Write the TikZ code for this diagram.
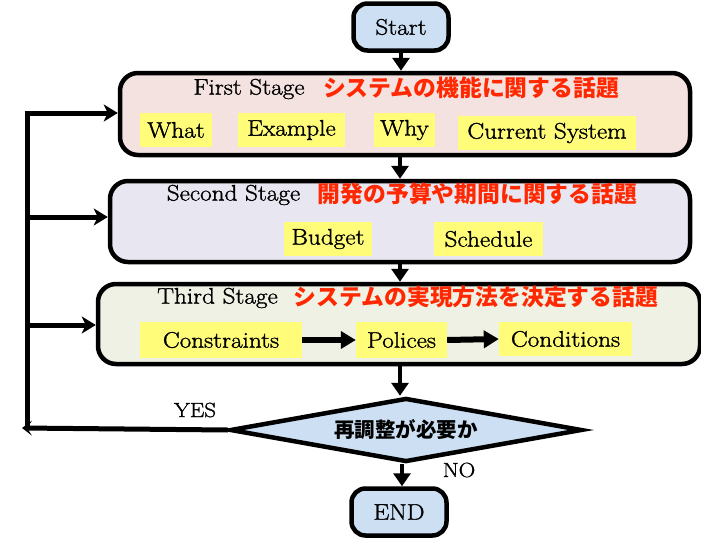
\documentclass[tikz,border=0pt]{standalone}
\usepackage{fontspec}
\newfontfamily\cjk{Noto Sans CJK JP}
\newfontfamily\latn{Latin Modern Roman}[FakeBold=1.3,FakeStretch=1.12]
\usetikzlibrary{arrows.meta,shapes.geometric}
\definecolor{cblue}{RGB}{205,223,242}
\definecolor{cpink}{RGB}{244,226,224}
\definecolor{clav}{RGB}{232,230,241}
\definecolor{cgreen}{RGB}{238,241,227}
\definecolor{cyellow}{RGB}{255,252,122}
\definecolor{cred}{RGB}{255,40,0}
\newcommand\latf{\latn\fontsize{22.5}{26}\selectfont}
\newcommand\smlatf{\latn\fontsize{20.5}{24}\selectfont}
\newcommand\jpf{\cjk\bfseries\fontsize{22.8}{26}\selectfont}
\begin{document}
\begin{tikzpicture}[x=1pt,y=-1pt,
  term/.style={draw,line width=4.5pt,rounded corners=14pt,fill=cblue,minimum width=95pt,minimum height=47pt,inner sep=0pt,font=\latf},
  stagebox/.style={draw,line width=4.5pt,rounded corners=18pt,inner sep=0pt},
  ybox/.style={fill=cyellow,inner sep=0pt,minimum height=34pt,font=\latf},
  lat/.style={inner sep=0pt,font=\latf},
  jp/.style={inner sep=0pt,text=cred,font=\jpf},
  conn/.style={line width=4.5pt,-{Triangle[length=13pt,width=17pt]}},
  inarrow/.style={line width=6pt,-{Triangle[length=15pt,width=17pt]}},
  loopline/.style={line width=5pt},
  looparrow/.style={line width=5pt,-{Stealth[length=14pt,width=17pt,inset=4pt]}},
  yesarrow/.style={line width=5pt,-{Stealth[length=10pt,width=15pt,inset=5pt]}}]
\useasboundingbox (0,0) rectangle (701,538);
\clip (0,0) rectangle (701,538);
% start
\node[term] (start) at (401,27) {Start};
% first stage
\node[stagebox,fill=cpink,minimum width=570pt,minimum height=82pt] (first) at (405,114) {};
\node[lat] (t1) at (249,89) {First Stage};
\node[jp] (j1) at (471,88) {システムの機能に関する話題};
\node[ybox,minimum width=72pt] (what) at (176,130) {What};
\node[ybox,minimum width=107pt] (ex) at (291.5,130) {Example};
\node[ybox,minimum width=61pt] (why) at (404.5,130) {Why};
\node[ybox,minimum width=178pt] (cur) at (547,133) {Current System};
% second stage
\node[stagebox,fill=clav,minimum width=580pt,minimum height=81pt] (second) at (400,221.5) {};
\node[lat] (t2) at (233.5,195) {Second Stage};
\node[jp] (j2) at (477.5,194) {開発の予算や期間に関する話題};
\node[ybox,minimum width=88pt] (bud) at (328,239) {Budget};
\node[ybox,minimum width=109pt] (sch) at (488.5,239) {Schedule};
% third stage
\node[stagebox,fill=cgreen,minimum width=602pt,minimum height=80pt] (third) at (399,324) {};
\node[lat] (t3) at (217.5,298) {Third Stage};
\node[jp] (j3) at (476,297) {システムの実現方法を決定する話題};
\node[ybox,minimum width=162pt,minimum height=36pt] (cons) at (221,340) {Constraints};
\node[ybox,minimum width=91pt,minimum height=36pt] (pol) at (401.5,340) {Polices};
\node[ybox,minimum width=133pt,minimum height=34pt] (cond) at (565.5,339) {Conditions};
% decision
\node[diamond,aspect=5.5,draw,line width=4.5pt,fill=cblue,minimum width=352pt,minimum height=64pt,inner sep=0pt,font=\cjk\bfseries\fontsize{20.5}{24}\selectfont] (dec) at (406,430) {再調整が必要か};
% end
\node[term] (end) at (399,512) {END};
% labels
\node[lat,font=\smlatf] (yes) at (195,410) {YES};
\node[lat,font=\smlatf] (no) at (459,470) {NO};
% connectors
\draw[conn] (start.south) -- (start.south |- first.north);
\draw[conn] (400,155) coordinate (c1) -- (c1 |- second.north);
\draw[conn] (400,262) coordinate (c2) -- (c2 |- third.north);
\draw[conn] (400,365) coordinate (c3) -- (c3 |- dec.north);
\draw[conn] (dec.south -| 402,0) coordinate (c4) -- (c4 |- end.north);
\draw[inarrow] (cons.east) -- (pol.west);
\draw[inarrow] (pol.east) -- (cond.west);
% loop
\coordinate (ltop) at (27,113);
\coordinate (lbot) at (27,428);
\coordinate (l2) at (27,217);
\coordinate (l3) at (27,325);
\coordinate (yesend) at (22,428);
\draw[yesarrow] (dec.west) -- (yesend);
\draw[loopline] (lbot) -- (ltop);
\draw[looparrow] ([xshift=-2.5pt]ltop) -- (ltop -| first.west);
\draw[looparrow] (l2) -- (l2 -| second.west);
\draw[looparrow] (l3) -- (l3 -| third.west);
\end{tikzpicture}
\end{document}
